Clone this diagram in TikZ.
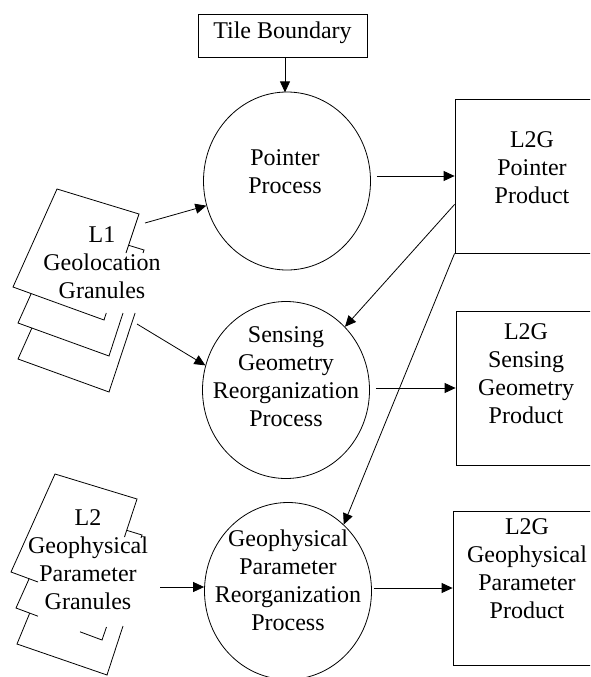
\documentclass[tikz,border=0pt]{standalone}
\usepackage{fontspec}
\setmainfont{Liberation Serif}
\usetikzlibrary{shapes.geometric,arrows.meta,calc}
\begin{document}
\begin{tikzpicture}[x=1pt,y=-1pt,line width=0.8pt,
  txt/.style={font=\fontsize{24}{28}\selectfont, align=center, inner sep=0pt, anchor=north},
  proc/.style={draw, ellipse, minimum width=167pt, minimum height=177pt, inner sep=0pt},
  prod/.style={draw, rectangle, minimum width=148pt, minimum height=154pt, inner sep=0pt},
  arr/.style={-{Triangle[length=11pt,width=10pt]}}
]
\useasboundingbox (0,0) rectangle (590,677);
\clip (0,0) rectangle (590,677);

% input box
\node[draw, minimum width=169pt, minimum height=43pt, inner sep=0pt,
      font=\fontsize{24}{28}\selectfont, text height=16pt, text depth=11pt] (tile) at (282.5,35.5) {Tile Boundary};

% processes
\node[proc, minimum height=178pt] (e1) at (287,181) {};
\node[proc] (e2) at (286,390) {};
\node[proc] (e3) at (288,591) {};
\node[txt] (t1) at (285,149.7) {Pointer\\Process};
\node[txt] (t2) at (286,326.7) {Sensing\\Geometry\\Reorganization\\Process};
\node[txt] (t3) at (288,529.7) {Geophysical\\Parameter\\Reorganization\\Process};

% products
\node[prod] (b1) at (529,176) {};
\node[prod] (b2) at (530,388) {};
\node[prod] (b3) at (527,588) {};
\node[txt] (bt1) at (532,131) {L2G\\Pointer\\Product};
\node[txt] (bt2) at (526,323) {L2G\\Sensing\\Geometry\\Product};
\node[txt] (bt3) at (527,518) {L2G\\Geophysical\\Parameter\\Product};

% document stack 1
\draw (126,253) -- (139,214) -- (57,189) -- (13,287) -- (104,320) -- (106.3,313);
\draw (129,245.4) -- (144,250) -- (143,253);
\draw (123,313) -- (109,356) -- (18,323) -- (31.2,293.6);
\draw (135.1,313) -- (109,392) -- (18,359) -- (31.9,328);
\node[txt] (s1t) at (102,226) {L1\\Geolocation\\Granules};

% document stack 2
\draw (124.5,537) -- (137,499) -- (55,474) -- (11,572) -- (38,582);
\draw (127,530.4) -- (142,535) -- (141,538);
\draw (29.2,578.6) -- (16,608) -- (38,616.2);
\draw (80,631.8) -- (102,640) -- (106.5,627);
\draw (123,626) -- (107,675) -- (17,644) -- (29.7,613.2);
\node[txt] (s2t) at (88,509) {L2\\Geophysical\\Parameter\\Granules};

% connectors
\coordinate (g1a) at (145,223);
\coordinate (g1b) at (137,324);
\coordinate (g2a) at (160,587);
\draw[arr] ([xshift=2.5pt]tile.south) -- ++(0,35);
\draw[arr] ($(e1.east |- b1.west)+(6,0)$) -- (b1.west);
\draw[arr] ($(e2.east |- b2.west)+(6,0)$) -- (b2.west);
\draw[arr] ($(e3.east |- b3.west)+(2,0)$) -- (b3.west);
\draw[arr] (g1a) -- (e1.197);
\draw[arr] (g1b) -- (e2.163);
\draw[arr] (g2a) -- (g2a -| e3.west);
\draw[arr] ($(b1.south west)+(0,-49)$) -- (e2.47);
\draw[arr] (b1.south west) -- (e3.50);
\end{tikzpicture}
\end{document}
